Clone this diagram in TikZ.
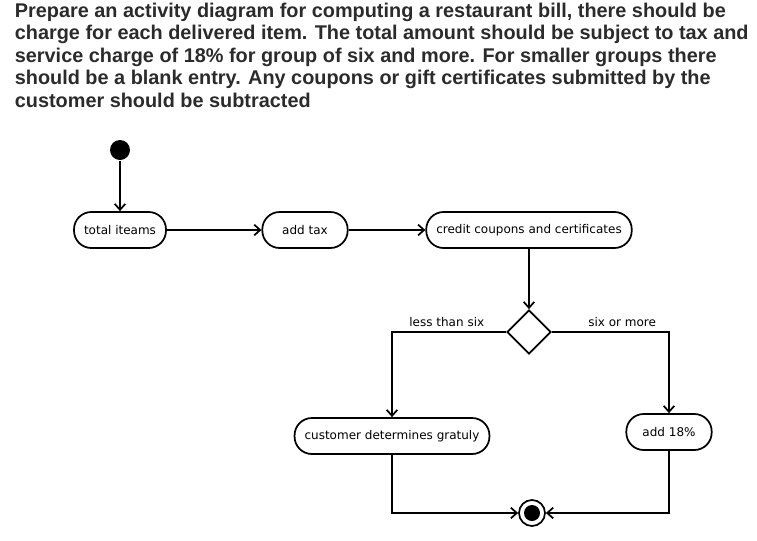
\documentclass[tikz,border=0pt]{standalone}
\usepackage{fontspec}
\setmainfont{DejaVu Sans}
\newfontfamily\taskfont{Liberation Sans}
\usetikzlibrary{shapes.geometric,arrows.meta}
\definecolor{taskgray}{HTML}{2B2B2B}

\begin{document}
\begin{tikzpicture}[x=0.75pt, y=-0.75pt, line width=1.3pt,
    every node/.style={font=\fontsize{9}{10}\selectfont},
    flow/.style={-{Straight Barb[length=4.5pt,width=8pt]}},
    action/.style={draw, rectangle, rounded corners=13pt, minimum height=27pt,
        minimum width=64pt, inner xsep=7.5pt},
    decision/.style={draw, diamond, minimum width=33pt, minimum height=33pt, inner sep=0pt},
    initial/.style={circle, fill=black, minimum size=15pt, inner sep=0pt},
    final/.style={circle, draw, minimum size=19.5pt, inner sep=0pt,
        path picture={\fill (path picture bounding box.center) circle (6pt);}},
    task/.style={anchor=north west, align=left, inner sep=0pt, text=taskgray,
        font=\taskfont\bfseries\fontsize{14.9}{16.9}\selectfont}]
    \useasboundingbox (0,0) rectangle (757,540);

    % Task text
    \node[task] (task) at (14,2) {Prepare an activity diagram for computing a restaurant bill, there should be\\
        charge for each delivered item. The total amount should be subject to tax and\\
        service charge of 18\% for group of six and more. For smaller groups there\\
        should be a blank entry. Any coupons or gift certificates submitted by the\\
        customer should be subtracted};

    % Activities
    \node[initial] (start) at (120,150) {};
    \node[action] (total) at (120,230) {total iteams};
    \node[action] (tax) at (305,230) {add tax};
    \node[action] (credit) at (529,230) {credit coupons and certificates};
    \node[decision] (branch) at (529,332) {};
    \node[action] (gratuity) at (392,436) {customer determines gratuly};
    \node[action] (service) at (669,432) {add 18\%};
    \node[final] (stop) at (532,513) {};

    % Flows
    \draw[flow] (start) -- (total);
    \draw[flow] (total) -- (tax);
    \draw[flow] (tax) -- (credit);
    \draw[flow] (credit) -- (branch);
    \draw[flow] (branch.west) -| node[pos=0.26, above] {less than six} (gratuity);
    \draw[flow] (branch.east) -| node[pos=0.3, above] {six or more} (service);
    \draw[flow] (gratuity) |- (stop);
    \draw[flow] (service) |- (stop);
\end{tikzpicture}
\end{document}
